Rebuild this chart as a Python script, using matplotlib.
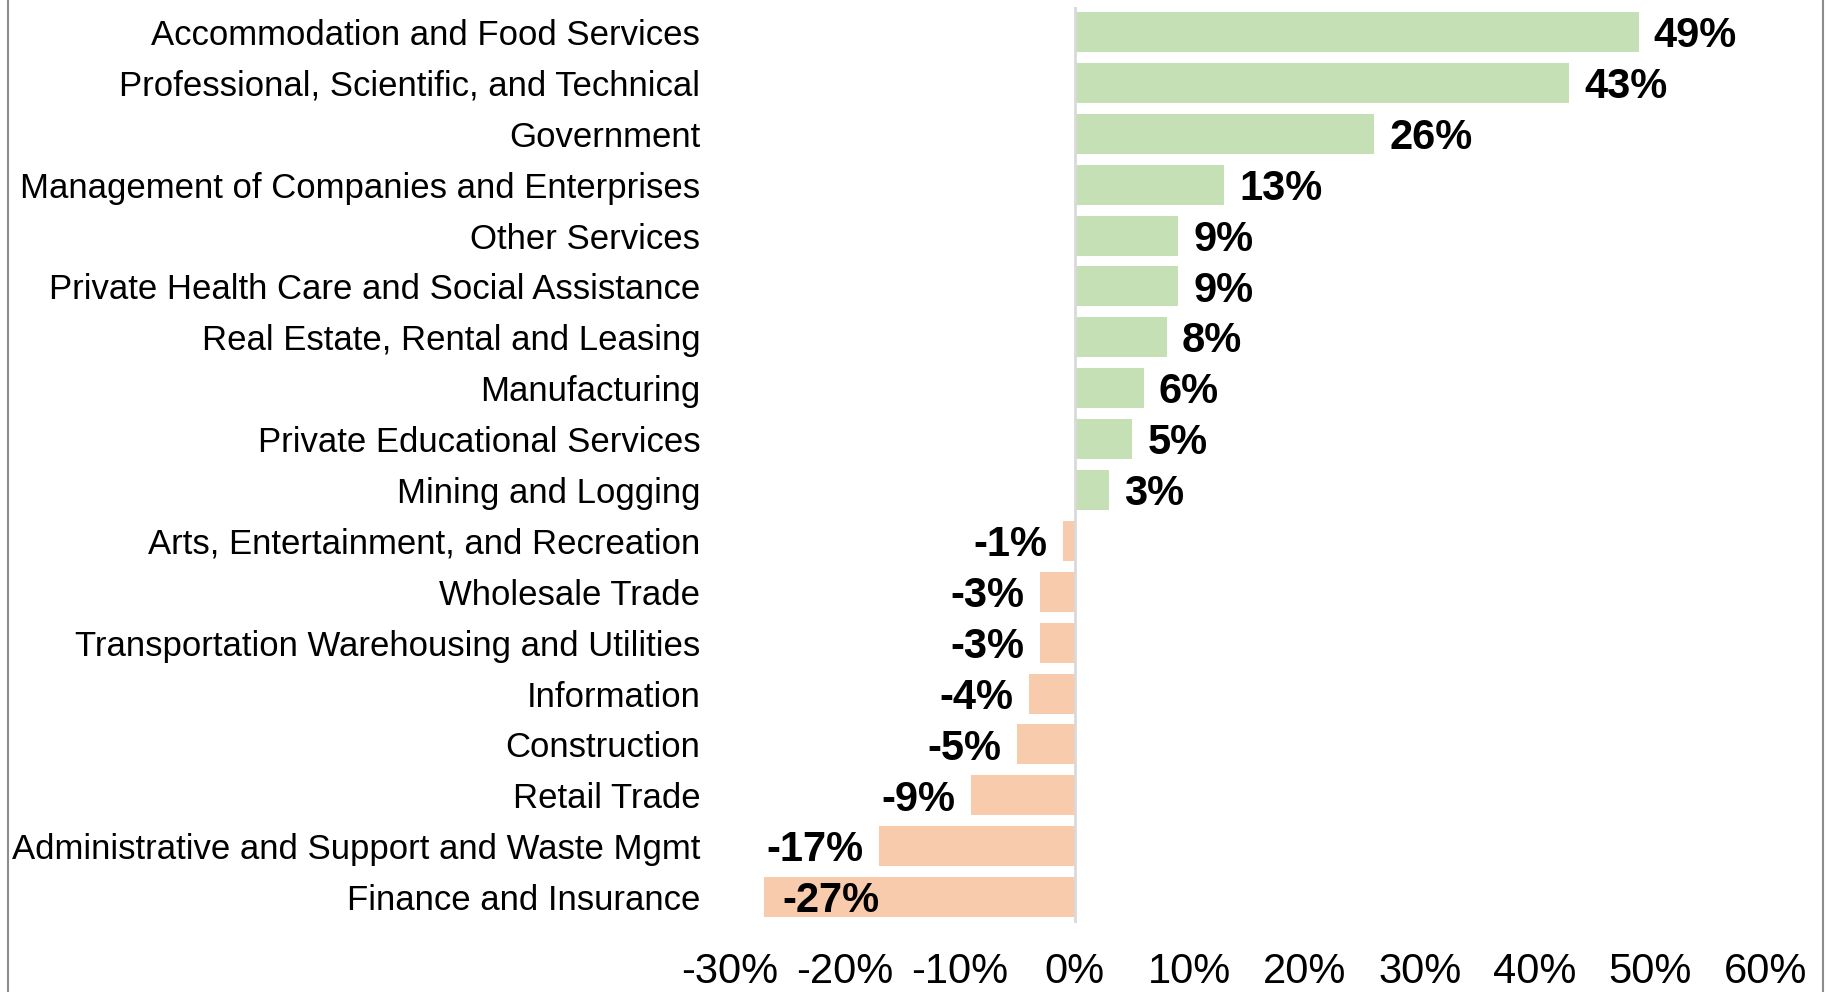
import matplotlib
matplotlib.use("Agg")
import matplotlib.pyplot as plt
from matplotlib.lines import Line2D

# -----------------------------
# Data
# -----------------------------
industries = [
    "Accommodation and Food Services",
    "Professional, Scientific, and Technical",
    "Government",
    "Management of Companies and Enterprises",
    "Other Services",
    "Private Health Care and Social Assistance",
    "Real Estate, Rental and Leasing",
    "Manufacturing",
    "Private Educational Services",
    "Mining and Logging",
    "Arts, Entertainment, and Recreation",
    "Wholesale Trade",
    "Transportation Warehousing and Utilities",
    "Information",
    "Construction",
    "Retail Trade",
    "Administrative and Support and Waste Mgmt",
    "Finance and Insurance",
]
change_pct = [49, 43, 26, 13, 9, 9, 8, 6, 5, 3, -1, -3, -3, -4, -5, -9, -17, -27]
x_ticks = [-30, -20, -10, 0, 10, 20, 30, 40, 50, 60]

plt.rcParams["font.family"] = ["Liberation Sans", "DejaVu Sans"]

# -----------------------------
# Plot
# -----------------------------
fig = plt.figure(figsize=(18.28, 9.92), dpi=100)
ax = fig.add_axes([0.399, 0.070, 0.5666, 0.9234])

colors = ["#C5E0B4" if v >= 0 else "#F8CBAD" for v in change_pct]
y_pos = list(range(len(industries)))
ax.barh(y_pos, change_pct, height=0.786, color=colors, zorder=2)
ax.axvline(0, color="#D9D9D9", lw=2, zorder=3)

# value labels
for y, v in zip(y_pos, change_pct):
    label = f"{v}%"
    if v >= 0:
        dx, ha = 11, "left"
    elif v > -20:
        dx, ha = -11, "right"
    else:
        # no room outside, Excel puts it inside the bar
        dx, ha = 13, "left"
    ax.annotate(label, (v, y), xytext=(dx, -3), textcoords="offset points",
                ha=ha, va="center", fontsize=30, fontweight="bold")

ax.set_xlim(-30, 60)
ax.set_ylim(len(industries) - 0.5, -0.5)
ax.set_xticks(x_ticks)
ax.set_xticklabels([f"{t}%" for t in x_ticks], fontsize=30)
ax.set_yticks(y_pos)
ax.set_yticklabels(industries, fontsize=25)
ax.tick_params(axis="x", length=0, pad=21)
ax.tick_params(axis="y", length=0, pad=21)
for s in ax.spines.values():
    s.set_visible(False)

# chart area border (left/right)
fig.add_artist(Line2D([0.0045, 0.0045], [0, 1], transform=fig.transFigure,
                      color="#8C8C8C", lw=1.5))
fig.add_artist(Line2D([0.9973, 0.9973], [0, 1], transform=fig.transFigure,
                      color="#8C8C8C", lw=1.5))

fig.savefig("out.png", dpi=100)
